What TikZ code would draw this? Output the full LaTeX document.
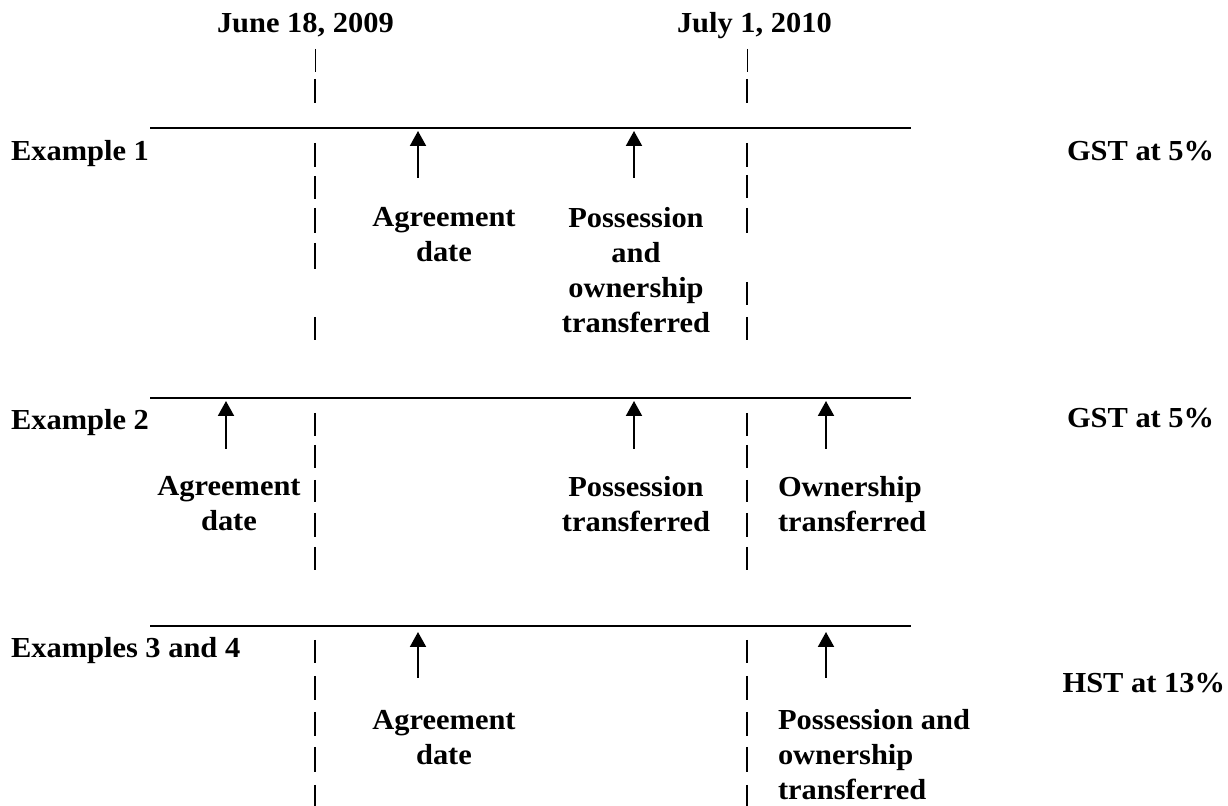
\documentclass[tikz,border=0pt]{standalone}
\usepackage{fontspec}
\setmainfont[FakeStretch=1.05]{Liberation Serif}
\usetikzlibrary{arrows.meta}
\begin{document}
\begin{tikzpicture}[x=0.5pt,y=-0.5pt,
  lbl/.style={font=\bfseries\fontsize{14.5}{17.5}\selectfont, inner sep=0pt, outer sep=0pt},
  ml/.style={lbl, align=center, anchor=north},
  mll/.style={lbl, align=left, anchor=north west},
  timeline/.style={line width=0.75pt},
  arr/.style={line width=1pt, -{Triangle[length=7.5pt,width=8pt]}},
  vbar/.style={line width=1pt},
  vbarthin/.style={line width=0.5pt}]
\useasboundingbox (0,0) rectangle (1228,806);

% dates
\node[lbl, anchor=base west] (june) at (217,33) {June 18, 2009};
\node[lbl, anchor=base west] (july) at (677,33) {July 1, 2010};
\foreach \x in {315,747}{
  \draw[vbarthin] (\x,49) -- (\x,72);
  \draw[vbar] (\x,79) -- (\x,103);
}

% row labels
\node[lbl, anchor=base west] (ex1) at (11,161) {Example 1};
\node[lbl, anchor=base west] (ex2) at (11,430) {Example 2};
\node[lbl, anchor=base west] (ex34) at (11,658) {Examples 3 and 4};
\node[lbl, anchor=base west] (gst1) at (1067,161) {GST at 5\%};
\node[lbl, anchor=base west] (gst2) at (1067,428) {GST at 5\%};
\node[lbl, anchor=base east] (hst) at (1225,693) {HST at 13\%};

% timelines
\coordinate (l1a) at (150,128); \coordinate (l1b) at (911,128);
\coordinate (l2a) at (150,398); \coordinate (l2b) at (911,398);
\coordinate (l3a) at (150,626); \coordinate (l3b) at (911,626);
\draw[timeline] (l1a) -- (l1b);
\draw[timeline] (l2a) -- (l2b);
\draw[timeline] (l3a) -- (l3b);

% dashed verticals row 1
\foreach \a/\b in {143/167,176/199,208/233,243/269,317/340}
  \draw[vbar] (315,\a) -- (315,\b);
\foreach \a/\b in {143/167,175/198,208/233,282/305,317/340}
  \draw[vbar] (747,\a) -- (747,\b);
% row 2
\foreach \x in {315,747}
  \foreach \a/\b in {413/436,445/468,480/502,513/537,547/570}
    \draw[vbar] (\x,\a) -- (\x,\b);
% row 3
\foreach \x in {315,747}
  \foreach \a/\b in {640/663,676/700,712/736,747/772,785/806}
    \draw[vbar] (\x,\a) -- (\x,\b);

% row 1 arrows and labels
\coordinate (r1a1t) at (418,178); \coordinate (r1a1h) at (418,131);
\coordinate (r1a2t) at (634,178); \coordinate (r1a2h) at (634,131);
\draw[arr] (r1a1t) -- (r1a1h);
\draw[arr] (r1a2t) -- (r1a2h);
\node[ml] (r1agr) at (444,207) {Agreement\\date};
\node[ml] (r1pos) at (636,207) {Possession\\and\\ownership\\transferred};

% row 2 arrows and labels
\coordinate (r2a1t) at (226,449); \coordinate (r2a1h) at (226,401);
\coordinate (r2a2t) at (634,449); \coordinate (r2a2h) at (634,401);
\coordinate (r2a3t) at (826,449); \coordinate (r2a3h) at (826,401);
\draw[arr] (r2a1t) -- (r2a1h);
\draw[arr] (r2a2t) -- (r2a2h);
\draw[arr] (r2a3t) -- (r2a3h);
\node[ml] (r2agr) at (229,476) {Agreement\\date};
\node[ml] (r2pos) at (636,476) {Possession\\transferred};
\node[mll] (r2own) at (778,476) {Ownership\\transferred};

% row 3 arrows and labels
\coordinate (r3a1t) at (418,678); \coordinate (r3a1h) at (418,632);
\coordinate (r3a2t) at (826,678); \coordinate (r3a2h) at (826,632);
\draw[arr] (r3a1t) -- (r3a1h);
\draw[arr] (r3a2t) -- (r3a2h);
\node[ml] (r3agr) at (444,710) {Agreement\\date};
\node[mll] (r3pos) at (778,709) {Possession and\\ownership\\transferred};
\end{tikzpicture}
\end{document}
